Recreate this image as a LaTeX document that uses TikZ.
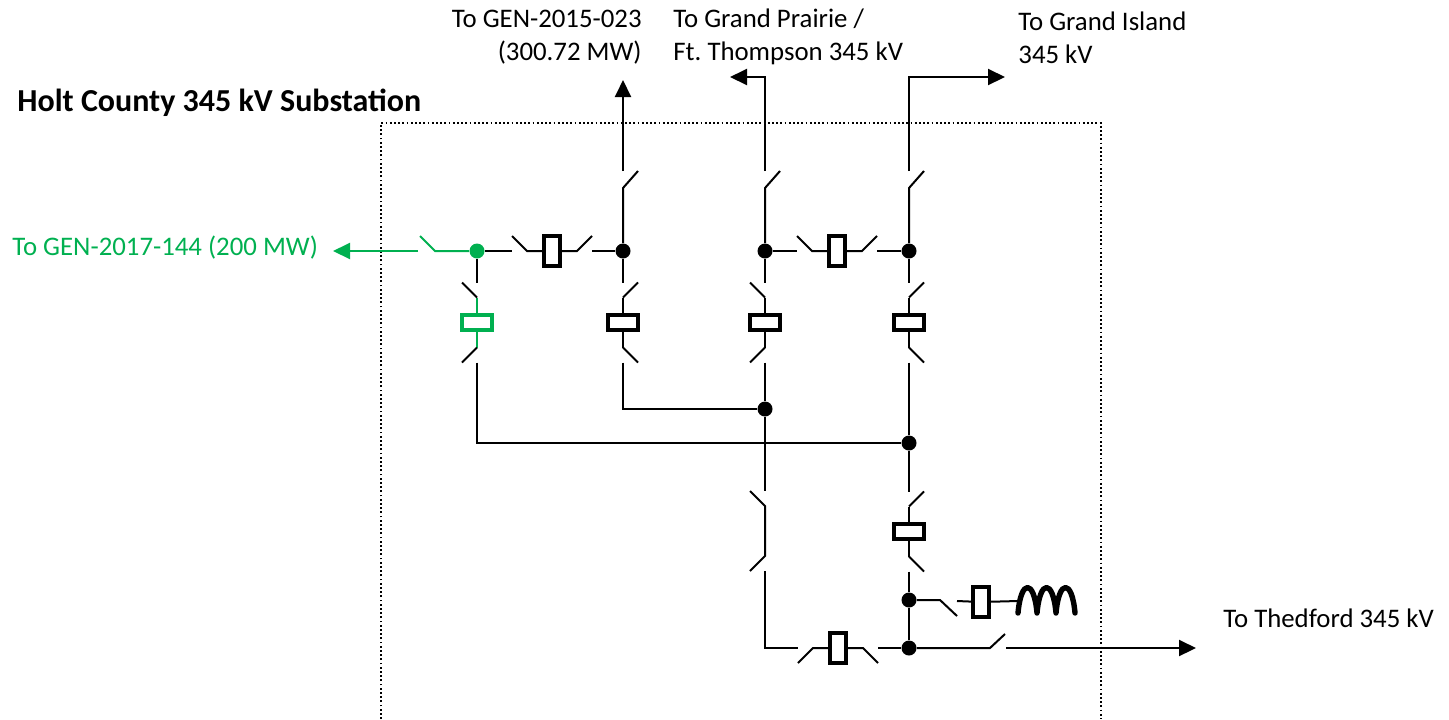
\documentclass[tikz,border=0pt]{standalone}
\usepackage{fontspec}
\setmainfont{Carlito}
\usetikzlibrary{arrows.meta}
\definecolor{brkgreen}{RGB}{0,176,80}
\tikzset{
    wire/.style={line width=1pt},
    feed/.style={wire, -{Triangle[length=8.5pt, width=8pt]}},
    brkbox/.style={draw, line width=1.9pt, inner sep=0pt},
    dot/.style={circle, fill, inner sep=0pt, minimum size=7.5pt},
    lbl/.style={inner sep=0pt, font=\fontsize{13.4}{16.5}\selectfont},
    ttl/.style={inner sep=0pt, font=\fontsize{16}{19}\selectfont\bfseries},
    fence/.style={line width=0.9pt, dash pattern=on 0.9pt off 1.2pt},
    coil/.style={line width=2.7pt, line cap=round, line join=round},
    pics/vbrk/.style={code={
        \coordinate (-t) at (0,-40);
        \coordinate (-b) at (0,40);
        \node[brkbox, minimum width=15pt, minimum height=7.75pt] (-box) at (0,0) {};
        \draw[wire] (-box.north) -- (0,-25);
        \draw[wire] (-box.south) -- (0,25);
        \draw[wire, black] (0,-25) -- (15,-40);
        \draw[wire, black] (0,25) -- (15,40);
    }},
    pics/vdis/.style={code={
        \coordinate (-t) at (0,-40);
        \coordinate (-b) at (0,40);
        \draw[wire] (15,-40) -- (0,-25) -- (0,25) -- (15,40);
    }},
    pics/hbrk/.style={code={
        \coordinate (-l) at (-40,0);
        \coordinate (-r) at (40,0);
        \node[brkbox, minimum width=7.75pt, minimum height=15pt] (-box) at (0,0) {};
        \draw[wire] (-40,-15) -- (-25,0) -- (-box.west);
        \draw[wire] (-box.east) -- (25,0) -- (40,-15);
    }}
}

\begin{document}
\frenchspacing
\begin{tikzpicture}[x=0.5pt, y=-0.5pt]
    \useasboundingbox (0,0) rectangle (1449,719);
    \draw[fence] (381,719) |- (1101,123) -- (1101,719);

    \node[ttl, anchor=base west] (title) at (17,111.5) {Holt County 345 kV Substation};
    \node[lbl, anchor=base east, align=right] (lGEN) at (642,60) {To GEN-2015-023\\(300.72 MW)};
    \node[lbl, anchor=base west, align=left] (lGP) at (673,60) {To Grand Prairie /\\Ft. Thompson 345 kV};
    \node[lbl, anchor=base west, align=left] (lGI) at (1018,63) {To Grand Island\\345 kV};
    \node[lbl, anchor=base west, text=brkgreen] (lG) at (12,255) {To GEN-2017-144 (200 MW)};
    \node[lbl, anchor=base west] (lTH) at (1223,627) {To Thedford 345 kV};

    \node[dot, brkgreen] (dG) at (477,251) {};
    \node[dot] (dA) at (623,251) {};
    \node[dot] (dB) at (765,251) {};
    \node[dot] (dC) at (909,251) {};
    \node[dot] (dB2) at (765,409) {};
    \node[dot] (dC2) at (909,443) {};
    \node[dot] (dC3) at (909,600) {};
    \node[dot] (dC4) at (909,648) {};

    \pic[color=brkgreen, xscale=-1] (bG) at (477,322.5) {vbrk};
    \pic (bA) at (623,322.5) {vbrk};
    \pic[xscale=-1] (bB) at (765,322.5) {vbrk};
    \pic (bC) at (909,322.5) {vbrk};
    \pic (bC2) at (909,531.5) {vbrk};
    \pic[xscale=-1] (sB) at (765,531) {vdis};
    \pic (hGA) at (552,251) {hbrk};
    \pic (hBC) at (837,251) {hbrk};
    \pic[yscale=-1] (hBot) at (838,648) {hbrk};

    \coordinate (tipA) at (623,80);
    \coordinate (tipB) at (730,77);
    \coordinate (tipC) at (1005,77);
    \coordinate (sA) at (623,171);
    \coordinate (sB) at (765,171);
    \coordinate (sC) at (909,171);
    \coordinate (jA) at (623,188);
    \coordinate (jB) at (765,188);
    \coordinate (jC) at (909,188);
    \draw[feed] (sA) -- (tipA);
    \draw[feed] (sB) |- (tipB);
    \draw[feed] (sC) |- (tipC);
    \draw[wire] (638,171) -- (jA) -- (dA);
    \draw[wire] (780,171) -- (jB) -- (dB);
    \draw[wire] (924,171) -- (jC) -- (dC);

    \draw[wire] (dG) -- (hGA-l);
    \draw[wire] (hGA-r) -- (dA);
    \draw[wire] (dB) -- (hBC-l);
    \draw[wire] (hBC-r) -- (dC);
    \draw[wire] (dG) -- (bG-t);
    \draw[wire] (dA) -- (bA-t);
    \draw[wire] (dB) -- (bB-t);
    \draw[wire] (dC) -- (bC-t);

    \coordinate (tipG) at (333,251);
    \coordinate (gsw) at (418,251);
    \coordinate (gj) at (435,251);
    \draw[feed, brkgreen] (gsw) -- (tipG);
    \draw[wire, brkgreen] (420,236) -- (gj) -- (dG);

    \draw[wire] (bG-b) |- (dC2);
    \draw[wire] (bA-b) |- (dB2);
    \draw[wire] (bB-b) -- (dB2) -- (sB-t);
    \draw[wire] (bC-b) -- (dC2) -- (bC2-t);
    \draw[wire] (sB-b) |- (hBot-l);
    \draw[wire] (hBot-r) -- (dC4);
    \draw[wire] (bC2-b) -- (dC3) -- (dC4);

    \coordinate (rsw) at (940,600);
    \coordinate (rin) at (957,601);
    \coordinate (coilL) at (1018,601);
    \node[brkbox, minimum width=7.75pt, minimum height=15pt] (rbox) at (981,602) {};
    \draw[wire] (dC3) -- (rsw) -- (957,616);
    \draw[wire] (rin) -- (rbox);
    \draw[wire] (rbox) -- (coilL);
    \draw[coil] (1018,613) .. controls (1021,579) and (1034,579) .. (1037,613)
        .. controls (1040,579) and (1053,579) .. (1056,613)
        .. controls (1059,579) and (1072,579) .. (1075,613);

    \coordinate (tsw) at (990,648);
    \coordinate (tout) at (1006,648);
    \coordinate (tipT) at (1196,648);
    \draw[wire] (dC4) -- (tsw) -- (1005,634);
    \draw[feed] (tout) -- (tipT);
\end{tikzpicture}
\end{document}
